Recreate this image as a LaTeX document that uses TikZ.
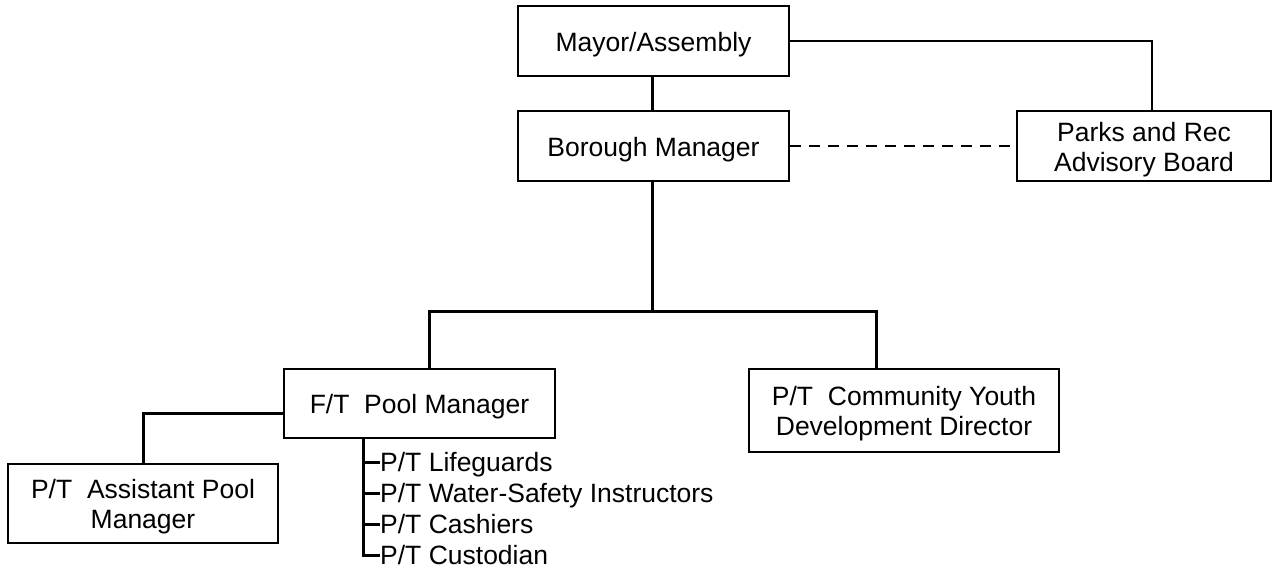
\documentclass[tikz,border=0pt]{standalone}
\usepackage{fontspec}
\setmainfont{Liberation Sans}
\usetikzlibrary{calc}
\begin{document}
\begin{tikzpicture}[x=1pt,y=-1pt,
  box/.style={draw=black, line width=2pt, fill=white, inner sep=0pt},
  txt/.style={inner sep=0pt, align=center, yshift=-3.5pt,
    font=\fontsize{26.5}{30}\selectfont},
  item/.style={inner sep=0pt, anchor=west, text height=19pt, text depth=0pt,
    font=\fontsize{26.5}{30}\selectfont},
  conn/.style={line width=3pt},
  thinconn/.style={line width=2pt},
  dashconn/.style={line width=2pt, dash pattern=on 11pt off 8pt}]
\useasboundingbox (0,0) rectangle (1273,573);

\node[box, minimum width=271pt, minimum height=70pt] (mayor) at (653.5,41) {};
\node[txt] (mayort) at (mayor.center) {Mayor/Assembly};
\node[box, minimum width=271pt, minimum height=70pt] (borough) at (653.5,146) {};
\node[txt] (borought) at (borough.center) {Borough Manager};
\node[box, minimum width=254pt, minimum height=70pt] (parks) at (1144,146) {};
\node[txt] (parkst) at (parks.center) {Parks and Rec\\Advisory Board};
\node[box, minimum width=271pt, minimum height=69pt] (pool) at (419.5,403.5) {};
\node[txt] (poolt) at (pool.center) {F/T\ \ Pool Manager};
\node[box, minimum width=310pt, minimum height=83pt] (youth) at (904,410.5) {};
\node[txt] (youtht) at (youth.center) {P/T\ \ Community Youth\\Development Director};
\node[box, minimum width=270pt, minimum height=79pt] (asst) at (143,503.5) {};
\node[txt] (asstt) at (asst.center) {P/T\ \ Assistant Pool\\Manager};

\node[item] (l1) at (380,462) {P/T Lifeguards};
\node[item] (l2) at (380,493) {P/T Water-Safety Instructors};
\node[item] (l3) at (380,524) {P/T Cashiers};
\node[item] (l4) at (380,555) {P/T Custodian};

% top connectors
\draw[conn] (mayor.south -| 652,0) -- (borough.north -| 652,0);
\draw[thinconn] (mayor.east) -| ([xshift=8pt]parks.north);
\draw[dashconn] (borough.east) -- (parks.west);

% borough to the two managers
\coordinate (bar) at (652,311);
\coordinate (jl) at (429,311);
\coordinate (jr) at (876,311);
\draw[conn] (borough.south -| bar) -- (bar);
\draw[conn] (jl |- pool.north) -- (jl) -- (jr) -- (jr |- youth.north);

% pool manager to assistant
\coordinate (as) at (143,413);
\draw[conn] (pool.west |- as) -- (as) -- (as |- asst.north);

% bracket of part-time staff
\coordinate (bt) at (363,438);
\draw[conn] (bt) -- (bt |- l4.west) -- (l4.west);
\draw[conn] (bt |- l1.west) -- (l1.west);
\draw[conn] (bt |- l2.west) -- (l2.west);
\draw[conn] (bt |- l3.west) -- (l3.west);
\end{tikzpicture}
\end{document}
